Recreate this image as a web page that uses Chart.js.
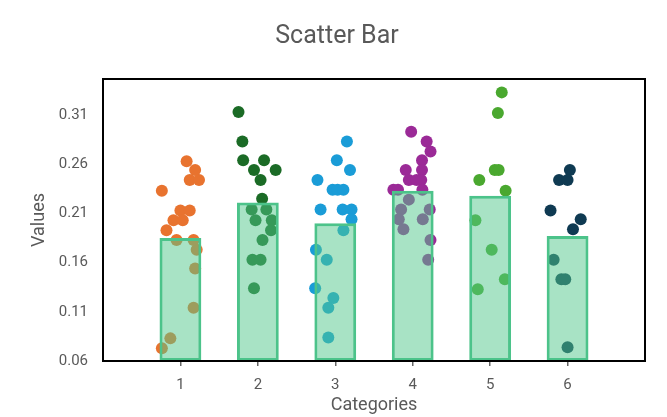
<!DOCTYPE html>
<html>
<head>
<meta charset="utf-8">
<script src="https://cdn.jsdelivr.net/npm/chart.js@4"></script>
<style>
html,body{margin:0;padding:0;background:#fff;}
#wrap{width:667px;height:417px;}
</style>
</head>
<body>
<div id="wrap"><canvas id="c" width="667" height="417"></canvas></div>
<script>
// ---- data ----
const categories = [1, 2, 3, 4, 5, 6];
const barValues = [0.185, 0.221, 0.200, 0.233, 0.228, 0.187];
const yTickValues = [0.06, 0.11, 0.16, 0.21, 0.26, 0.31];

const cat1Values = [0.263,0.254,0.244,0.244,0.233,0.213,0.213,0.203,0.203,0.193,0.183,0.183,0.173,0.154,0.114,0.083,0.073];
const cat1Jitter = [0.08,0.19,0.12,0.24,-0.24,0,0.12,-0.09,0.03,-0.18,-0.05,0.17,0.21,0.19,0.17,-0.13,-0.24];
const cat2Values = [0.313,0.283,0.264,0.264,0.254,0.254,0.244,0.225,0.214,0.214,0.203,0.203,0.193,0.183,0.163,0.163,0.134];
const cat2Jitter = [-0.25,-0.2,-0.19,0.08,-0.05,0.23,0.035,0.055,-0.08,0.11,-0.03,0.18,0.17,0.06,-0.07,0.035,-0.05];
const cat3Values = [0.283,0.264,0.254,0.244,0.234,0.234,0.234,0.214,0.214,0.214,0.204,0.193,0.173,0.163,0.134,0.124,0.114,0.084];
const cat3Jitter = [0.15,0.02,0.19,-0.23,-0.035,0.03,0.105,-0.19,0.095,0.21,0.21,0.105,-0.25,-0.11,-0.26,-0.025,-0.09,-0.09];
const cat4Values = [0.293,0.283,0.273,0.264,0.254,0.254,0.244,0.244,0.244,0.234,0.234,0.234,0.224,0.214,0.214,0.204,0.204,0.194,0.183,0.163];
const cat4Jitter = [-0.02,0.18,0.23,0.12,-0.09,0.12,-0.05,0.05,0.11,-0.25,-0.19,0.125,-0.05,-0.15,0.22,-0.18,0.13,-0.12,0.23,0.2];
const cat5Values = [0.333,0.312,0.254,0.254,0.244,0.233,0.203,0.173,0.143,0.133];
const cat5Jitter = [0.15,0.1,0.06,0.11,-0.14,0.2,-0.19,0.02,0.19,-0.16];
const cat6Values = [0.254,0.244,0.244,0.213,0.204,0.194,0.163,0.143,0.143,0.074];
const cat6Jitter = [0.03,-0.11,0,-0.22,0.17,0.07,-0.18,-0.08,-0.03,0];

const pointColors = ['#e8732f', '#1b6b26', '#1a9cd7', '#9b2a97', '#4aa82f', '#0f3a52'];
const allValues = [cat1Values, cat2Values, cat3Values, cat4Values, cat5Values, cat6Values];
const allJitter = [cat1Jitter, cat2Jitter, cat3Jitter, cat4Jitter, cat5Jitter, cat6Jitter];

const textColor = '#595959';
const fontFamily = 'Roboto, "Liberation Sans", sans-serif';

const scatterSets = categories.map((c, i) => ({
  type: 'scatter',
  label: 'Category ' + c,
  data: allValues[i].map((v, k) => ({ x: c + allJitter[i][k], y: v })),
  backgroundColor: pointColors[i],
  borderWidth: 0,
  pointRadius: 6,
  pointHoverRadius: 6,
  order: 2
}));

const barSet = {
  type: 'bar',
  label: 'Mean',
  data: categories.map((c, i) => ({ x: c, y: barValues[i] })),
  base: yTickValues[0],
  backgroundColor: 'rgba(82,200,140,0.5)',
  borderColor: '#4cc38a',
  borderWidth: 3,
  borderSkipped: false,
  categoryPercentage: 0.54,
  barPercentage: 1,
  order: 1
};

const boxPlugin = {
  id: 'box',
  afterDatasetsDraw(chart) {
    const { ctx, chartArea: a } = chart;
    ctx.save();
    ctx.strokeStyle = '#000';
    ctx.lineWidth = 2;
    ctx.strokeRect(a.left, a.top, a.right - a.left, a.bottom - a.top);
    ctx.restore();
  }
};

new Chart(document.getElementById('c'), {
  data: { datasets: [barSet, ...scatterSets] },
  options: {
    responsive: false,
    animation: false,
    layout: { padding: { top: 0, right: 22, bottom: 0, left: 29 } },
    plugins: {
      legend: { display: false },
      tooltip: { enabled: false },
      title: {
        display: true,
        text: 'Scatter Bar',
        color: textColor,
        font: { family: fontFamily, size: 25, weight: 'normal' },
        padding: { top: 22, bottom: 27 }
      }
    },
    scales: {
      x: {
        type: 'linear',
        min: 0,
        max: 7,
        offset: false,
        afterBuildTicks(scale) { scale.ticks = categories.map(v => ({ value: v })); },
        afterFit(scale) { scale.height = 56; },
        grid: { display: true, offset: false, drawOnChartArea: false, drawTicks: true, tickLength: 5, color: '#666', lineWidth: 1.5 },
        border: { display: false },
        ticks: { color: textColor, font: { family: fontFamily, size: 15 }, padding: 10 },
        title: { display: true, text: 'Categories', color: textColor, font: { family: fontFamily, size: 18 }, padding: { top: 0, bottom: 1 } }
      },
      y: {
        type: 'linear',
        min: yTickValues[0],
        max: 0.3466,
        afterBuildTicks(scale) { scale.ticks = yTickValues.map(v => ({ value: v })); },
        afterFit(scale) { scale.width = 74; },
        grid: { display: false, drawTicks: false, tickLength: 0 },
        border: { display: false },
        ticks: { color: textColor, font: { family: fontFamily, size: 15 }, padding: 15, callback: v => Number(v).toFixed(2) },
        title: { display: true, text: 'Values', color: textColor, font: { family: fontFamily, size: 18 }, padding: { top: 0, bottom: 0 } }
      }
    }
  },
  plugins: [boxPlugin]
});
</script>
</body>
</html>
